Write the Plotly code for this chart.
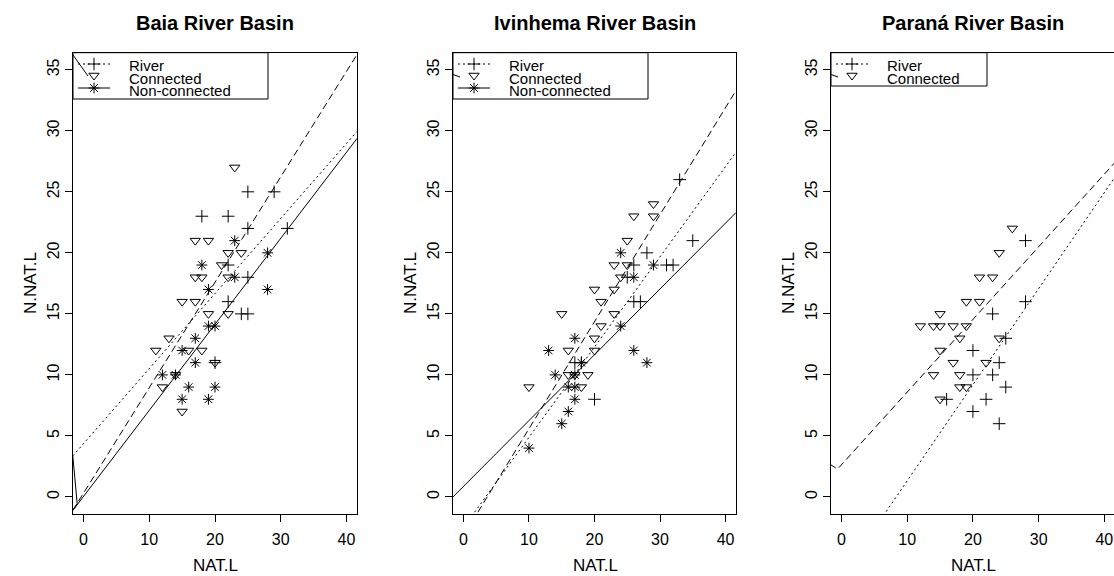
import plotly.graph_objects as go

W, H = 1114, 576

titles = ["Baia River Basin", "Ivinhema River Basin", "Paraná River Basin"]
groups = ["River", "Connected", "Non-connected"]

# Baia River Basin
baia_river_x = [25, 29, 18, 22, 25, 31, 22, 25, 22, 24, 25, 20]
baia_river_y = [25, 25, 23, 23, 22, 22, 19, 18, 16, 15, 15, 11]
baia_conn_x = [23, 17, 19, 22, 24, 21, 17, 18, 22, 15, 17, 19, 22, 13, 11, 16, 18, 20, 14, 12, 15]
baia_conn_y = [27, 21, 21, 20, 20, 19, 18, 18, 18, 16, 16, 15, 15, 13, 12, 12, 12, 11, 10, 9, 7]
baia_nc_x = [23, 28, 18, 23, 19, 28, 19, 20, 17, 15, 17, 12, 14, 16, 20, 15, 19]
baia_nc_y = [21, 20, 19, 18, 17, 17, 14, 14, 13, 12, 11, 10, 10, 9, 9, 8, 8]

# Ivinhema River Basin
ivin_river_x = [33, 35, 28, 26, 31, 32, 25, 26, 27, 17, 18, 20]
ivin_river_y = [26, 21, 20, 19, 19, 19, 18, 16, 16, 11, 11, 8]
ivin_conn_x = [29, 26, 29, 25, 23, 25, 24, 20, 23, 21, 15, 23, 21, 20, 16, 20, 16, 17, 19, 10, 18]
ivin_conn_y = [24, 23, 23, 21, 19, 19, 18, 17, 17, 16, 15, 15, 14, 13, 12, 12, 10, 10, 10, 9, 9]
ivin_nc_x = [24, 29, 26, 24, 17, 13, 26, 18, 28, 14, 17, 16, 17, 17, 16, 15, 10]
ivin_nc_y = [20, 19, 18, 14, 13, 12, 12, 11, 11, 10, 10, 9, 9, 8, 7, 6, 4]

# Parana River Basin
par_river_x = [28, 28, 23, 25, 20, 24, 20, 23, 25, 16, 22, 20, 24]
par_river_y = [21, 16, 15, 13, 12, 11, 10, 10, 9, 8, 8, 7, 6]
par_conn_x = [26, 24, 21, 23, 19, 21, 15, 12, 14, 15, 17, 19, 18, 24, 15, 17, 22, 14, 18, 18, 19, 15]
par_conn_y = [22, 20, 18, 18, 16, 16, 15, 14, 14, 14, 14, 14, 13, 13, 12, 11, 11, 10, 10, 9, 9, 8]

# fitted lines (as drawn)
baia_fit_river_x, baia_fit_river_y = [-1.63, 41.6], [3.36, 29.95]
baia_fit_conn_x, baia_fit_conn_y = [-1.63, 41.6], [-1.1, 36.25]
baia_fit_nc_x, baia_fit_nc_y = [-1.63, -0.96, -1.63, 41.6], [3.36, -0.57, -1.11, 29.37]
ivin_fit_river_x, ivin_fit_river_y = [1.7, 41.6], [-1.25, 28.25]
ivin_fit_conn_x, ivin_fit_conn_y = [2.2, 41.6], [-1.25, 33.3]
ivin_fit_nc_x, ivin_fit_nc_y = [-1.6, 41.6], [0.0, 23.3]
par_fit_river_x, par_fit_river_y = [6.8, 41.6], [-1.2, 26.2]
par_fit_conn_x, par_fit_conn_y = [-1.77, -0.6, 41.6], [2.68, 2.28, 27.4]

x_ticks = [0, 10, 20, 30, 40]
y_ticks = [0, 5, 10, 15, 20, 25, 30, 35]

panels = [
    dict(pts=[(baia_river_x, baia_river_y), (baia_conn_x, baia_conn_y), (baia_nc_x, baia_nc_y)],
         fits=[(baia_fit_river_x, baia_fit_river_y), (baia_fit_conn_x, baia_fit_conn_y), (baia_fit_nc_x, baia_fit_nc_y)]),
    dict(pts=[(ivin_river_x, ivin_river_y), (ivin_conn_x, ivin_conn_y), (ivin_nc_x, ivin_nc_y)],
         fits=[(ivin_fit_river_x, ivin_fit_river_y), (ivin_fit_conn_x, ivin_fit_conn_y), (ivin_fit_nc_x, ivin_fit_nc_y)]),
    dict(pts=[(par_river_x, par_river_y), (par_conn_x, par_conn_y)],
         fits=[(par_fit_river_x, par_fit_river_y), (par_fit_conn_x, par_fit_conn_y)]),
]

symbols = ["cross-thin-open", "triangle-down-open", "asterisk-open"]
sizes = [9, 9, 9]
dashes = ["2px,3px", "7px,4px", "solid"]

FONT = "Liberation Sans, Arial, Helvetica, sans-serif"
left_px = [73, 453, 831]
right_px = [357, 736, 1114]
top_px, bot_px = 52.7, 514

fig = go.Figure()

for i, p in enumerate(panels):
    xa = "x" if i == 0 else "x%d" % (i + 1)
    ya = "y" if i == 0 else "y%d" % (i + 1)
    for g, (xs, ys) in enumerate(p["fits"]):
        fig.add_trace(go.Scatter(x=xs, y=ys, mode="lines", xaxis=xa, yaxis=ya, showlegend=False,
                                 line=dict(color="black", width=1, dash=dashes[g]), hoverinfo="skip"))
    for g, (xs, ys) in enumerate(p["pts"]):
        fig.add_trace(go.Scatter(x=xs, y=ys, mode="markers", xaxis=xa, yaxis=ya, showlegend=False, name=groups[g],
                                 marker=dict(symbol=symbols[g], size=sizes[g], color="black",
                                             line=dict(color="black", width=1))))

# legend glyphs drawn on a pixel overlay
leg_rows = [64, 75.5, 88]
text_rows = [65.5, 78, 90.5]
leg_w = [195, 195, 156]
leg_b = [99, 99, 86]
shapes = []
annotations = []
for i in range(3):
    L = left_px[i]
    n = len(panels[i]["pts"])
    shapes.append(dict(type="rect", xref="x4", yref="y4", x0=L, x1=L + leg_w[i], y0=top_px, y1=leg_b[i],
                       line=dict(color="black", width=1)))
    for g in range(n):
        if g != 1:
            fig.add_trace(go.Scatter(x=[L + 5, L + 37], y=[leg_rows[g], leg_rows[g]], mode="lines", xaxis="x4", yaxis="y4",
                                     showlegend=False, hoverinfo="skip",
                                     line=dict(color="black", width=1, dash=dashes[g])))
        fig.add_trace(go.Scatter(x=[L + 21], y=[leg_rows[g]], mode="markers", xaxis="x4", yaxis="y4",
                                 showlegend=False, hoverinfo="skip",
                                 marker=dict(symbol=symbols[g], size=sizes[g], color="black",
                                             line=dict(color="black", width=1))))
        annotations.append(dict(x=L + 54, y=text_rows[g], xref="x4", yref="y4", text=groups[g], showarrow=False,
                                xanchor="left", yanchor="middle", font=dict(family=FONT, size=15, color="black")))
    # stray bit of the connected legend line
    if i == 0:
        seg = ([L, L + 15], [55, 76])
    else:
        seg = ([L, L + 7], [74.5, 77])
    fig.add_trace(go.Scatter(x=seg[0], y=seg[1], mode="lines", xaxis="x4", yaxis="y4", showlegend=False,
                             hoverinfo="skip", line=dict(color="black", width=1)))

    cx = (left_px[i] + right_px[i]) / 2 if i < 2 else 973
    annotations.append(dict(x=cx, y=23, xref="x4", yref="y4", text="<b>%s</b>" % titles[i], showarrow=False,
                            font=dict(family=FONT, size=20, color="black")))
    annotations.append(dict(x=L - 43, y=283, xref="x4", yref="y4", text="N.NAT.L", showarrow=False, textangle=-90,
                            font=dict(family=FONT, size=17, color="black")))
    annotations.append(dict(x=(left_px[i] + 284 / 2), y=565, xref="x4", yref="y4", text="NAT.L", showarrow=False,
                            font=dict(family=FONT, size=17, color="black")))

axis_common = dict(showgrid=False, zeroline=False, showline=True, mirror=True, linecolor="black", linewidth=1,
                   ticks="outside", ticklen=7, tickwidth=1, tickcolor="black",
                   tickfont=dict(family=FONT, size=16, color="black"))

ydom = [1 - bot_px / H, 1 - top_px / H]
layout = dict(width=W, height=H, margin=dict(l=0, r=0, t=0, b=0, autoexpand=False), paper_bgcolor="white",
              plot_bgcolor="rgba(0,0,0,0)", showlegend=False, shapes=shapes, annotations=annotations)
for i in range(3):
    sx = "" if i == 0 else str(i + 1)
    xr = [-1.6, 41.6] if i < 2 else [-1.6, 41.47]
    layout["xaxis" + sx] = dict(axis_common, domain=[left_px[i] / W, min(right_px[i], W) / W], range=xr,
                                tickvals=x_ticks, anchor="y" + sx, ticklabelstandoff=4)
    layout["yaxis" + sx] = dict(axis_common, domain=ydom, range=[-1.4, 36.4], tickvals=y_ticks,
                                anchor="x" + sx, tickangle=-90)
layout["xaxis4"] = dict(domain=[0, 1], range=[0, W], visible=False, fixedrange=True, anchor="y4")
layout["yaxis4"] = dict(domain=[0, 1], range=[H, 0], visible=False, fixedrange=True, anchor="x4")
fig.update_layout(**layout)

fig.write_html("out.html", config={"displayModeBar": False},
               post_script="document.body.style.margin='0';")
